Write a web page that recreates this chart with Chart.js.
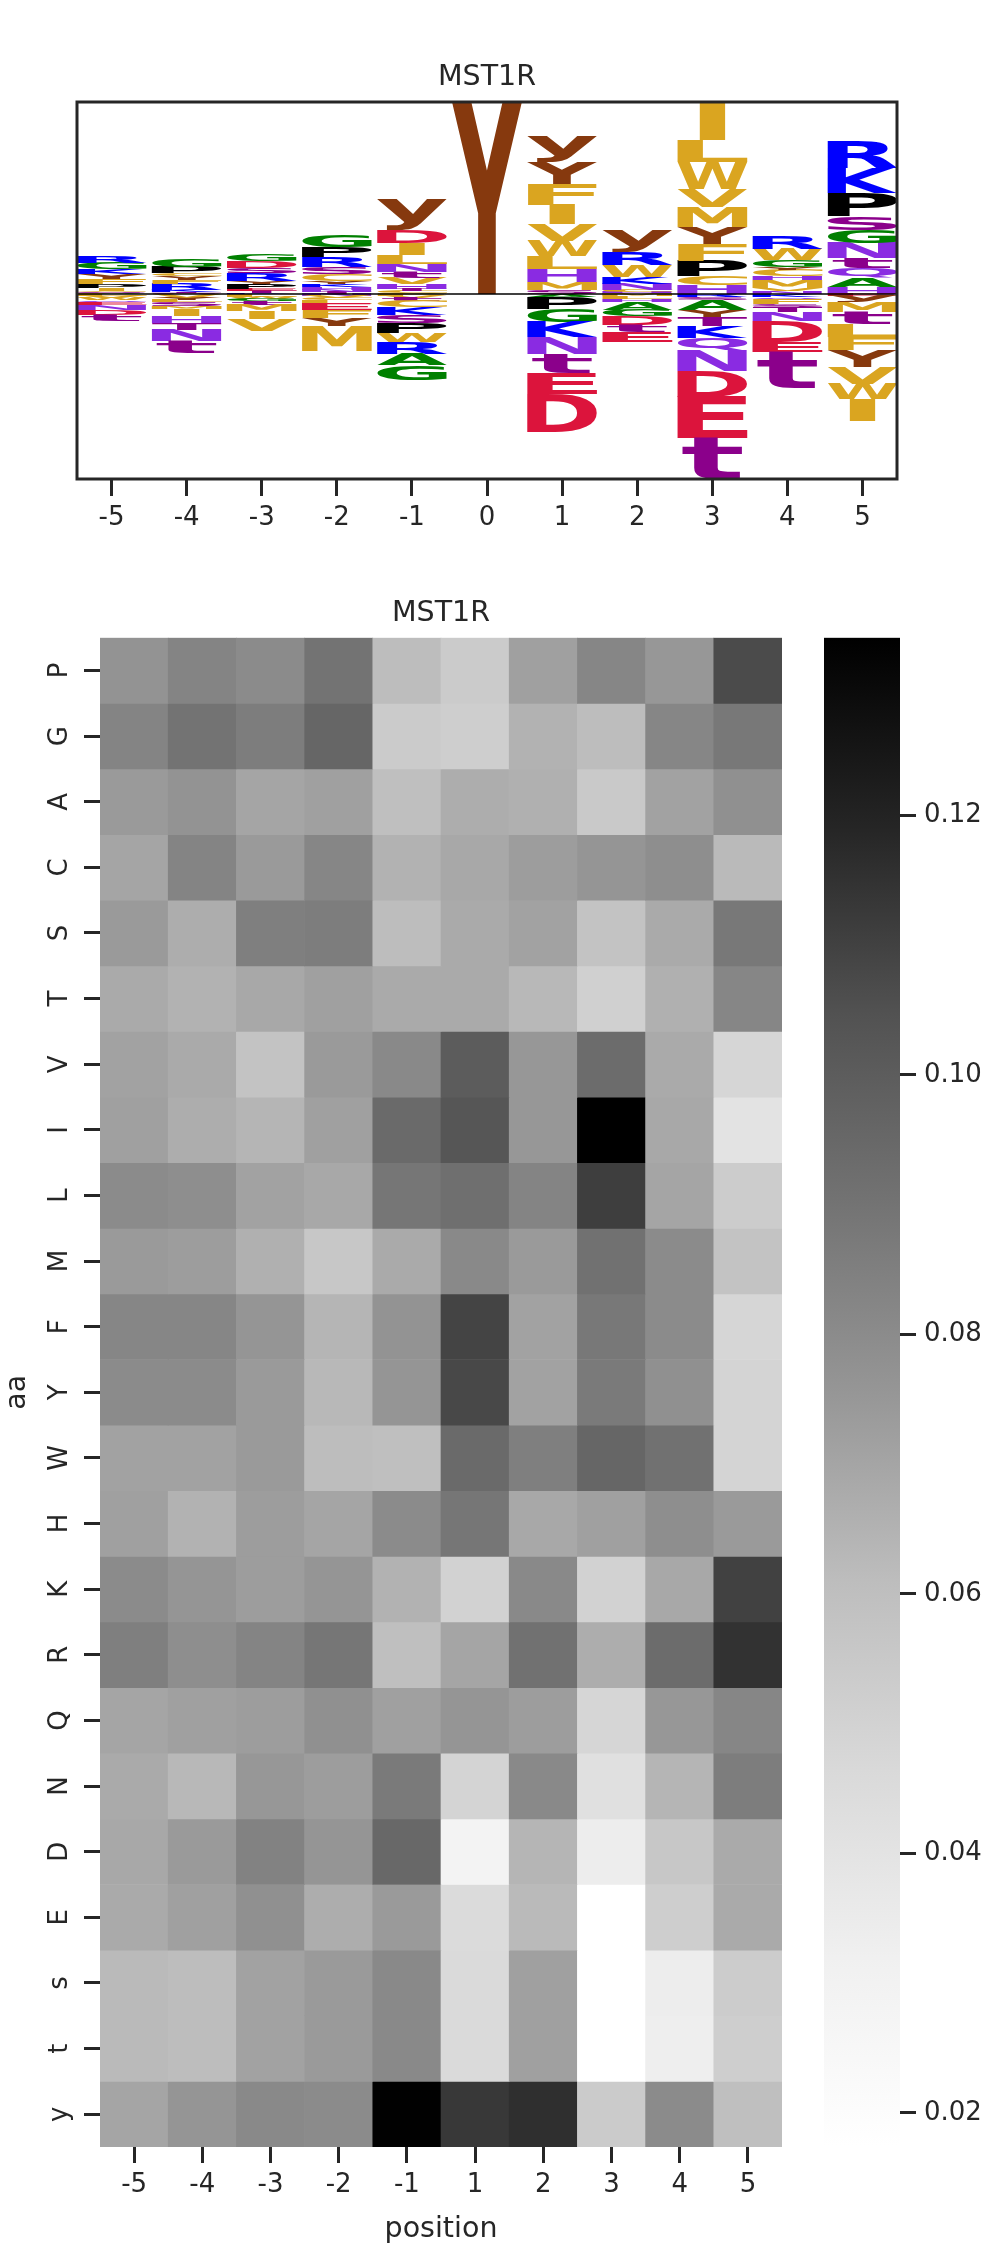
<!DOCTYPE html>
<html>
<head>
<meta charset="utf-8">
<script src="https://cdn.jsdelivr.net/npm/chart.js@4.4.1/dist/chart.umd.min.js"></script>
<style>
  body { margin: 0; background: #fff; }
  #page { position: relative; width: 993px; height: 2247px; }
  .box { position: absolute; }
</style>
</head>
<body>
<div id="page">
  <div class="box" style="left:0;top:0;width:993px;height:560px"><canvas id="logo"></canvas></div>
  <div class="box" style="left:0;top:560px;width:800px;height:1687px"><canvas id="heat"></canvas></div>
  <div class="box" style="left:800px;top:560px;width:193px;height:1687px"><canvas id="cbar"></canvas></div>
</div>
<script>
// ---- data ----
const kinase = 'MST1R';

// sequence logo: letters stacked from the baseline outward, heights per letter
const logoPositions = [-5, -4, -3, -2, -1, 0, 1, 2, 3, 4, 5];
const logoUpLetters = ['ASCIPFYKGR', 'STKRFYCPG', 'KTEPYRSDG', 'TNHKYCSRPG', 'ACTHVtNLIDy', 'Y',
                       'SMHLWVIFYy', 'HCNKWRy', 'HCPFYMVWLI', 'NVMHCYGWR', 'HAQtNGSPKR'];
const logoUpHeights = [
  [0.01, 0.01, 0.01, 0.03, 0.04, 0.05, 0.05, 0.05, 0.06, 0.07],
  [0.01, 0.01, 0.02, 0.06, 0.04, 0.04, 0.03, 0.06, 0.08],
  [0.01, 0.02, 0.02, 0.05, 0.03, 0.08, 0.05, 0.07, 0.07],
  [0.02, 0.02, 0.03, 0.03, 0.03, 0.07, 0.07, 0.10, 0.10, 0.12],
  [0.01, 0.02, 0.02, 0.05, 0.06, 0.06, 0.08, 0.09, 0.12, 0.13, 0.31],
  [1.92],
  [0.04, 0.08, 0.13, 0.13, 0.15, 0.17, 0.19, 0.21, 0.22, 0.26],
  [0.02, 0.02, 0.06, 0.07, 0.12, 0.13, 0.22],
  [0.09, 0.09, 0.15, 0.17, 0.17, 0.20, 0.18, 0.27, 0.22, 0.38],
  [0.03, 0.03, 0.08, 0.04, 0.06, 0.03, 0.07, 0.11, 0.13],
  [0.07, 0.09, 0.10, 0.10, 0.15, 0.13, 0.14, 0.23, 0.25, 0.27]
];
const logoDownLetters = ['LVWQENDt', 'VYLSMIHTNt', 'LWGtMIV', 'NVCLEFYM', 'FVtCKSPWRAG', '',
                         'APGKNtED', 'MLHAGDtE', 'RSAYTKQNDEt', 'KQFSTNDEt', 'EyMtLFYVWI'];
const logoDownHeights = [
  [0.02, 0.02, 0.02, 0.02, 0.03, 0.05, 0.05, 0.06],
  [0.04, 0.02, 0.02, 0.04, 0.03, 0.07, 0.07, 0.07, 0.11, 0.12],
  [0.03, 0.02, 0.02, 0.04, 0.06, 0.08, 0.12],
  [0.02, 0.02, 0.02, 0.04, 0.06, 0.08, 0.08, 0.25],
  [0.02, 0.02, 0.03, 0.06, 0.08, 0.08, 0.10, 0.09, 0.12, 0.11, 0.15],
  [],
  [0.03, 0.12, 0.13, 0.15, 0.17, 0.19, 0.21, 0.38],
  [0.02, 0.03, 0.03, 0.08, 0.06, 0.09, 0.07, 0.10],
  [0.03, 0.03, 0.10, 0.07, 0.09, 0.12, 0.12, 0.21, 0.26, 0.41, 0.41],
  [0.03, 0.02, 0.05, 0.03, 0.05, 0.09, 0.21, 0.10, 0.36],
  [0.02, 0.06, 0.10, 0.12, 0.13, 0.13, 0.17, 0.17, 0.15, 0.22]
];

// heatmap
const positions = ['-5', '-4', '-3', '-2', '-1', '1', '2', '3', '4', '5'];
const aminoAcids = ['P', 'G', 'A', 'C', 'S', 'T', 'V', 'I', 'L', 'M', 'F', 'Y', 'W', 'H',
                    'K', 'R', 'Q', 'N', 'D', 'E', 's', 't', 'y'];
const heatValues = [
  [0.077, 0.083, 0.080, 0.090, 0.061, 0.054, 0.072, 0.082, 0.075, 0.107],
  [0.083, 0.090, 0.086, 0.096, 0.054, 0.052, 0.065, 0.061, 0.082, 0.088],
  [0.074, 0.077, 0.070, 0.072, 0.060, 0.067, 0.066, 0.055, 0.071, 0.078],
  [0.070, 0.083, 0.074, 0.082, 0.065, 0.069, 0.073, 0.076, 0.079, 0.062],
  [0.074, 0.067, 0.085, 0.086, 0.061, 0.068, 0.071, 0.058, 0.068, 0.088],
  [0.068, 0.065, 0.069, 0.072, 0.068, 0.068, 0.063, 0.051, 0.066, 0.082],
  [0.071, 0.068, 0.058, 0.074, 0.081, 0.100, 0.075, 0.093, 0.068, 0.048],
  [0.072, 0.067, 0.064, 0.072, 0.094, 0.103, 0.075, 0.1337, 0.069, 0.040],
  [0.080, 0.079, 0.071, 0.069, 0.089, 0.092, 0.083, 0.111, 0.070, 0.053],
  [0.074, 0.073, 0.066, 0.056, 0.068, 0.081, 0.074, 0.091, 0.080, 0.058],
  [0.082, 0.082, 0.076, 0.064, 0.077, 0.109, 0.071, 0.088, 0.080, 0.048],
  [0.080, 0.080, 0.074, 0.063, 0.076, 0.108, 0.071, 0.087, 0.078, 0.049],
  [0.071, 0.071, 0.074, 0.061, 0.060, 0.094, 0.085, 0.096, 0.091, 0.049],
  [0.072, 0.065, 0.073, 0.070, 0.080, 0.089, 0.069, 0.072, 0.079, 0.074],
  [0.080, 0.076, 0.073, 0.076, 0.065, 0.050, 0.081, 0.050, 0.069, 0.110],
  [0.085, 0.079, 0.083, 0.089, 0.060, 0.070, 0.091, 0.067, 0.093, 0.115],
  [0.070, 0.072, 0.073, 0.078, 0.072, 0.076, 0.073, 0.048, 0.075, 0.082],
  [0.068, 0.063, 0.075, 0.073, 0.087, 0.049, 0.081, 0.042, 0.064, 0.086],
  [0.069, 0.074, 0.084, 0.076, 0.095, 0.029, 0.064, 0.034, 0.056, 0.068],
  [0.068, 0.072, 0.078, 0.067, 0.074, 0.045, 0.062, 0.0174, 0.052, 0.068],
  [0.062, 0.061, 0.071, 0.074, 0.081, 0.046, 0.072, 0.0174, 0.034, 0.053],
  [0.062, 0.061, 0.071, 0.074, 0.081, 0.046, 0.072, 0.0174, 0.033, 0.052],
  [0.070, 0.076, 0.081, 0.080, 0.1335, 0.113, 0.116, 0.054, 0.080, 0.060]
];
const colorbarTicks = [0.02, 0.04, 0.06, 0.08, 0.10, 0.12];

// ---- styling ----
Chart.defaults.font.family = '"DejaVu Sans"';
Chart.defaults.color = '#262626';
const INK = '#262626';

const letterColor = {
  R: '#0000ff', K: '#0000ff', G: '#008000', A: '#008000',
  S: '#8b008b', T: '#8b008b', s: '#8b008b', t: '#8b008b',
  N: '#8a2be2', Q: '#8a2be2', H: '#8a2be2',
  W: '#daa520', F: '#daa520', L: '#daa520', I: '#daa520', M: '#daa520', V: '#daa520', C: '#daa520',
  D: '#dc143c', E: '#dc143c', P: '#000000', Y: '#86390e', y: '#86390e'
};

// matplotlib "Greys"
const greyStops = [255, 240, 217, 189, 150, 115, 82, 37, 0];
const allVals = heatValues.flat();
const vmin = Math.min(...allVals);
const vmax = Math.max(...allVals);
function greys(v) {
  let t = (v - vmin) / (vmax - vmin);
  t = Math.max(0, Math.min(1, t)) * 8;
  const i = Math.min(7, Math.floor(t));
  const g = Math.round(greyStops[i] + (greyStops[i + 1] - greyStops[i]) * (t - i));
  return `rgb(${g},${g},${g})`;
}

// titles above the axes box
const titlePlugin = {
  id: 'boxTitle',
  afterDraw(chart) {
    const { ctx, chartArea } = chart;
    ctx.save();
    ctx.font = '28.5px "DejaVu Sans"';
    ctx.fillStyle = INK;
    ctx.textAlign = 'center';
    ctx.textBaseline = 'alphabetic';
    ctx.fillText(kinase, (chartArea.left + chartArea.right) / 2, chartArea.top - 17);
    ctx.restore();
  }
};

// ---- sequence logo ----
const glyphFont = 'bold 200px "DejaVu Sans"';

function drawGlyph(ctx, ch, x0, x1, yTop, yBot, eW) {
  const m = ctx.measureText(ch);
  const gw = m.actualBoundingBoxLeft + m.actualBoundingBoxRight;
  const gh = m.actualBoundingBoxAscent + m.actualBoundingBoxDescent;
  const boxW = x1 - x0, boxH = yBot - yTop;
  if (boxH <= 0 || gw <= 0) return;
  const sx = Math.min(boxW / gw, boxW / eW);
  const sy = boxH / gh;
  ctx.save();
  ctx.translate(x0 + (boxW - gw * sx) / 2, yTop);
  ctx.scale(sx, sy);
  ctx.fillStyle = letterColor[ch] || '#000';
  ctx.fillText(ch, m.actualBoundingBoxLeft, m.actualBoundingBoxAscent);
  ctx.restore();
}

const logoPlugin = {
  id: 'logoGlyphs',
  afterDatasetsDraw(chart) {
    const { ctx, chartArea, scales: { x, y } } = chart;
    ctx.save();
    ctx.font = glyphFont;
    ctx.textAlign = 'left';
    ctx.textBaseline = 'alphabetic';
    const em = ctx.measureText('E');
    const eW = em.actualBoundingBoxLeft + em.actualBoundingBoxRight;
    const half = 0.465;

    logoPositions.forEach((p, i) => {
      const xa = x.getPixelForValue(p - half), xb = x.getPixelForValue(p + half);
      let base = 0;
      logoUpHeights[i].forEach((h, j) => {
        const top = base + h;
        drawGlyph(ctx, logoUpLetters[i][j], xa, xb, y.getPixelForValue(top), y.getPixelForValue(base), eW);
        base = top;
      });
      base = 0;
      logoDownHeights[i].forEach((h, j) => {
        const bot = base - h;
        drawGlyph(ctx, logoDownLetters[i][j], xa, xb, y.getPixelForValue(base), y.getPixelForValue(bot), eW);
        base = bot;
      });
    });

    // baseline
    const y0 = y.getPixelForValue(0);
    ctx.strokeStyle = '#000';
    ctx.lineWidth = 1.3;
    ctx.beginPath();
    ctx.moveTo(chartArea.left, y0);
    ctx.lineTo(chartArea.right, y0);
    ctx.stroke();

    // frame
    ctx.strokeStyle = INK;
    ctx.lineWidth = 3;
    ctx.strokeRect(chartArea.left, chartArea.top, chartArea.right - chartArea.left, chartArea.bottom - chartArea.top);
    ctx.restore();
  }
};

const upSums = logoUpHeights.map(a => a.reduce((s, v) => s + v, 0));
const downSums = logoDownHeights.map(a => a.reduce((s, v) => s + v, 0));

new Chart(document.getElementById('logo'), {
  type: 'scatter',
  data: { datasets: [] },
  options: {
    animation: false,
    responsive: true,
    maintainAspectRatio: false,
    layout: { padding: { left: 77, right: 96, top: 102, bottom: 21 } },
    plugins: { legend: { display: false }, tooltip: { enabled: false } },
    scales: {
      x: {
        type: 'linear',
        min: -5.46,
        max: 5.46,
        afterBuildTicks: s => { s.ticks = logoPositions.map(v => ({ value: v })); },
        afterFit: s => { s.height = 60; },
        grid: { drawOnChartArea: false, drawTicks: true, tickLength: 17, tickWidth: 3, tickColor: INK },
        border: { display: false },
        ticks: { font: { size: 26 }, color: INK, padding: 7, maxRotation: 0 }
      },
      y: {
        display: false,
        min: -Math.max(...downSums),
        max: Math.max(...upSums)
      }
    }
  },
  plugins: [logoPlugin, titlePlugin]
});

// ---- heatmap ----
const rowLabelPlugin = {
  id: 'rowLabels',
  afterDraw(chart) {
    const { ctx, scales: { y } } = chart;
    ctx.save();
    ctx.font = '26px "DejaVu Sans"';
    ctx.fillStyle = INK;
    ctx.textAlign = 'center';
    ctx.textBaseline = 'alphabetic';
    aminoAcids.forEach((aa, r) => {
      ctx.save();
      ctx.translate(67, y.getPixelForValue(r));
      ctx.rotate(-Math.PI / 2);
      ctx.fillText(aa, 0, 0);
      ctx.restore();
    });
    ctx.restore();
  }
};

new Chart(document.getElementById('heat'), {
  type: 'bar',
  data: {
    labels: positions,
    datasets: aminoAcids.map((aa, r) => ({
      label: aa,
      data: heatValues[r].map(() => [r - 0.5, r + 0.5]),
      backgroundColor: heatValues[r].map(greys),
      borderWidth: 0,
      grouped: false,
      barPercentage: 1,
      categoryPercentage: 1
    }))
  },
  options: {
    animation: false,
    responsive: true,
    maintainAspectRatio: false,
    layout: { padding: { left: 0, right: 18, top: 77.7, bottom: 0 } },
    plugins: { legend: { display: false }, tooltip: { enabled: false } },
    scales: {
      x: {
        afterFit: s => { s.height = 100; },
        grid: { offset: false, drawOnChartArea: false, drawTicks: true, tickLength: 16, tickWidth: 3, tickColor: INK },
        border: { display: false },
        ticks: { font: { size: 26 }, color: INK, padding: 7, maxRotation: 0 },
        title: { display: true, text: 'position', font: { size: 28.5 }, color: INK, padding: { top: 0, bottom: 0 } }
      },
      y: {
        type: 'linear',
        reverse: true,
        min: -0.5,
        max: aminoAcids.length - 0.5,
        afterBuildTicks: s => { s.ticks = aminoAcids.map((a, i) => ({ value: i })); },
        afterFit: s => { s.width = 100; },
        grid: { drawOnChartArea: false, drawTicks: true, tickLength: 16, tickWidth: 3, tickColor: INK },
        border: { display: false },
        ticks: { color: 'rgba(0,0,0,0)', font: { size: 26 } },
        title: { display: true, text: 'aa', font: { size: 28.5 }, color: INK, padding: { top: 0, bottom: 0 } }
      }
    }
  },
  plugins: [rowLabelPlugin, titlePlugin]
});

// ---- colorbar ----
new Chart(document.getElementById('cbar'), {
  type: 'bar',
  data: {
    labels: [''],
    datasets: [{
      data: [[vmin, vmax]],
      backgroundColor: c => {
        const area = c.chart.chartArea;
        if (!area) return '#888';
        const g = c.chart.ctx.createLinearGradient(0, area.bottom, 0, area.top);
        greyStops.forEach((v, i) => g.addColorStop(i / 8, `rgb(${v},${v},${v})`));
        return g;
      },
      borderWidth: 0,
      barPercentage: 1,
      categoryPercentage: 1
    }]
  },
  options: {
    animation: false,
    responsive: true,
    maintainAspectRatio: false,
    layout: { padding: { left: 24, right: 0, top: 77.7, bottom: 100.3 } },
    plugins: { legend: { display: false }, tooltip: { enabled: false } },
    scales: {
      x: { display: false },
      y: {
        position: 'right',
        min: vmin,
        max: vmax,
        afterBuildTicks: s => { s.ticks = colorbarTicks.map(v => ({ value: v })); },
        afterFit: s => { s.width = 93; },
        grid: { drawOnChartArea: false, drawTicks: true, tickLength: 16, tickWidth: 3, tickColor: INK },
        border: { display: false },
        ticks: { font: { size: 26 }, color: INK, padding: 8, callback: v => v.toFixed(2) }
      }
    }
  }
});
</script>
</body>
</html>
